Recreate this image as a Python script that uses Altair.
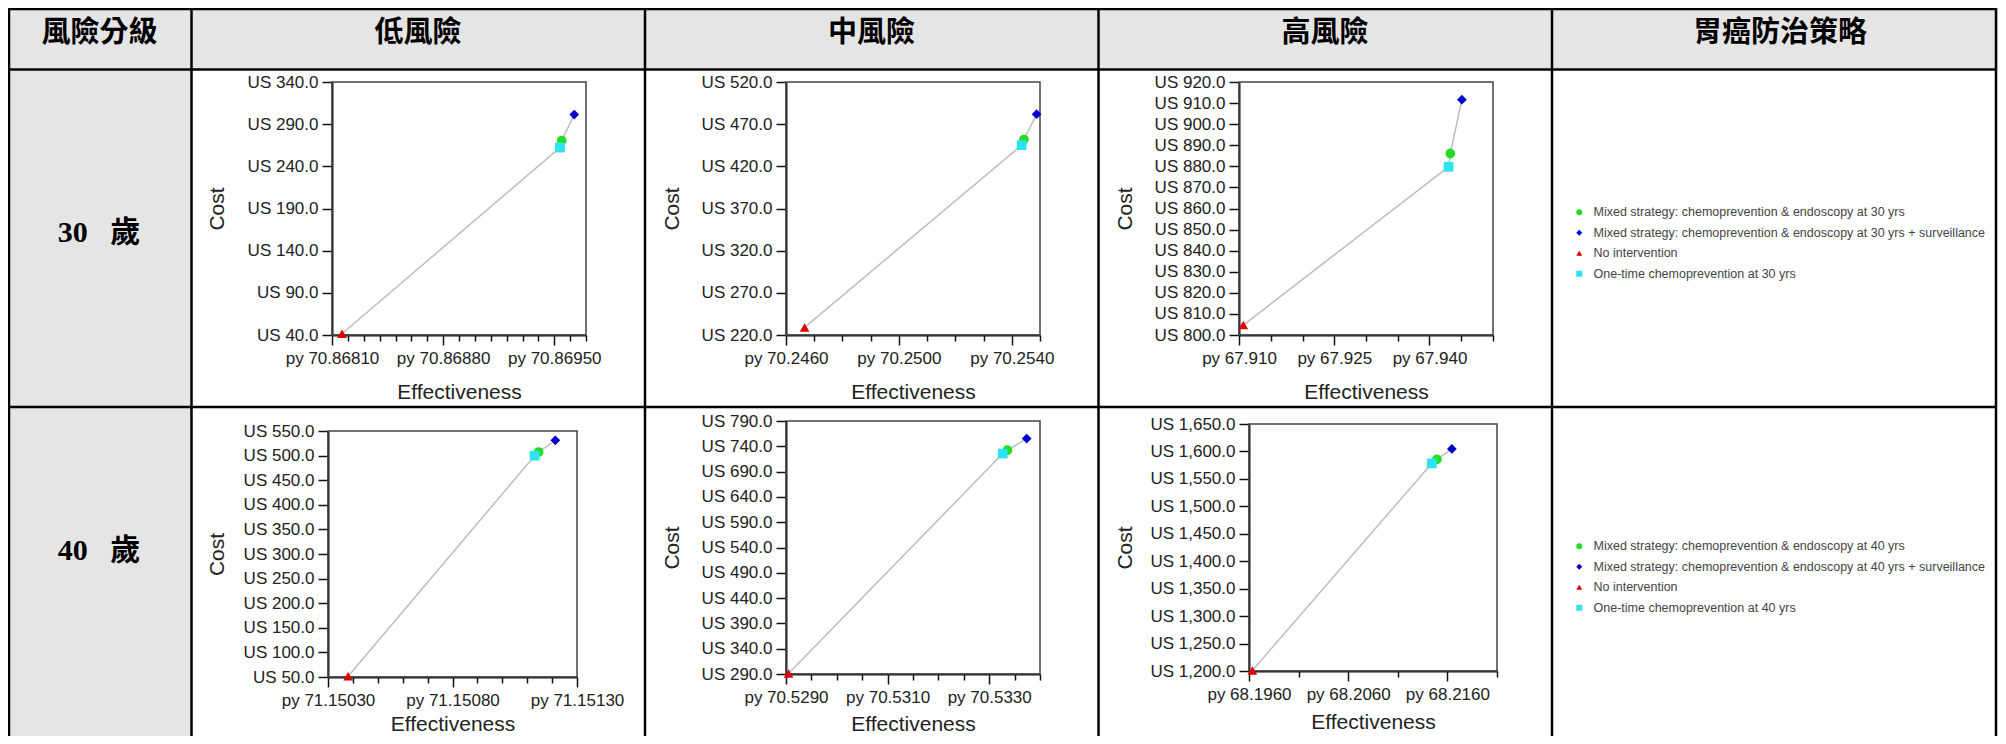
import altair as alt
import pandas as pd

W, H = 1990, 728

# ---------------- table text ----------------
header_labels = ["風險分級", "低風險", "中風險", "高風險", "胃癌防治策略"]
header_x = [91.5, 410, 863.5, 1317, 1772]
row_labels = ["30\u00a0\u00a0\u00a0歲", "40\u00a0\u00a0\u00a0歲"]
row_label_y = [224.5, 542.5]

# ---------------- strategies ----------------
strategies_30 = [
    "Mixed strategy: chemoprevention & endoscopy at 30 yrs",
    "Mixed strategy: chemoprevention & endoscopy at 30 yrs + surveillance",
    "No intervention",
    "One-time chemoprevention at 30 yrs",
]
strategies_40 = [
    "Mixed strategy: chemoprevention & endoscopy at 40 yrs",
    "Mixed strategy: chemoprevention & endoscopy at 40 yrs + surveillance",
    "No intervention",
    "One-time chemoprevention at 40 yrs",
]
strategy_shapes = ["circle", "diamond", "triangle-up", "square"]
strategy_colors = ["#22dd22", "#0000cc", "#dd0000", "#2ee3f0"]

# ---------------- values (effectiveness in py, cost in US$) ----------------
eff_30_low = [70.869547, 70.869626, 70.868163, 70.869536]
cost_30_low = [270.6, 301.4, 41.5, 262.3]
eff_30_mid = [70.25443, 70.25488, 70.24666, 70.25435]
cost_30_mid = [451.8, 481.8, 229.0, 445.1]
eff_30_high = [67.94328, 67.94510, 67.91068, 67.94300]
cost_30_high = [886.1, 911.6, 804.7, 879.8]
eff_40_low = [71.151146, 71.151213, 71.150381, 71.151130]
cost_40_low = [507.3, 531.0, 51.4, 499.9]
eff_40_mid = [70.533358, 70.533738, 70.529050, 70.533266]
cost_40_mid = [732.2, 755.2, 291.0, 725.6]
eff_40_high = [68.21494, 68.21645, 68.19634, 68.21443]
cost_40_high = [1585.6, 1604.5, 1201.0, 1578.3]

# axis domains / ticks
x_domains = [[70.86810, 70.86970], [70.2460, 70.2550], [67.910, 67.950],
             [71.15030, 71.15130], [70.5290, 70.5340], [68.1960, 68.2210]]
x_steps = [0.0001, 0.001, 0.005, 0.0001, 0.0005, 0.005]
x_majors = [[70.86810, 70.86880, 70.86950], [70.2460, 70.2500, 70.2540],
            [67.910, 67.925, 67.940], [71.15030, 71.15080, 71.15130],
            [70.5290, 70.5310, 70.5330], [68.1960, 68.2060, 68.2160]]
x_formats = [".5f", ".4f", ".3f", ".5f", ".4f", ".4f"]
y_domains = [[40, 340], [220, 520], [800, 920], [50, 550], [290, 790], [1200, 1650]]
y_steps = [50, 50, 10, 50, 50, 50]

# layout of plot frames (left, right, top, bottom) and title offsets
boxes = [(324, 578, 74, 327), (778, 1032, 74, 327), (1231, 1485, 74, 327),
         (320, 569, 423, 669), (778, 1032, 413, 666), (1241, 1489, 416, 663)]
ytitle_dx = [-115, -114, -114, -111, -114, -124]
xtitle_dy = [57, 57, 57, 47, 50, 51]
legend_pos = {0: (1565, 198), 3: (1565, 532)}


def tick_list(lo, hi, step):
    n = int(round((hi - lo) / step))
    return [round(lo + i * step, 8) for i in range(n + 1)]


def make_panel(i, strats, eff, cost):
    L, R, T, B = boxes[i]
    xdom, ydom = x_domains[i], y_domains[i]
    df = pd.DataFrame({"strategy": strats, "eff": eff, "cost": cost})
    frame_df = pd.DataFrame({"eff": [xdom[0]], "eff2": [xdom[1]],
                             "cost": [ydom[0]], "cost2": [ydom[1]]})
    test = " || ".join(f"abs(datum.value - {m}) < 1e-7" for m in x_majors[i])
    xscale = alt.Scale(domain=xdom, range=[L, R], zero=False, nice=False)
    yscale = alt.Scale(domain=ydom, range=[B, T], zero=False, nice=False)
    xaxis = alt.Axis(orient="bottom", offset=B - H, values=tick_list(xdom[0], xdom[1], x_steps[i]),
                     labelExpr=f"({test}) ? 'py ' + format(datum.value, '{x_formats[i]}') : ''",
                     labelOverlap=False, labelFlush=False,
                     tickSize={"condition": {"test": test, "value": 10}, "value": 6},
                     labelPadding=5,
                     title="Effectiveness", titleY=xtitle_dy[i], titleBaseline="middle", grid=False)
    yaxis = alt.Axis(orient="left", offset=-L, values=tick_list(ydom[0], ydom[1], y_steps[i]),
                     labelExpr="'US ' + format(datum.value, ',.1f')", labelOverlap=False,
                     tickSize=10, labelPadding=4, title="Cost", titleX=ytitle_dx[i],
                     titleBaseline="middle", grid=False)
    x = alt.X("eff:Q", scale=xscale, axis=xaxis)
    y = alt.Y("cost:Q", scale=yscale, axis=yaxis)

    frame = alt.Chart(frame_df).mark_rect(fill=None, stroke="#444", strokeWidth=1.5).encode(
        x=x, x2="eff2:Q", y=y, y2="cost2:Q")
    line = alt.Chart(df).mark_line(color="#bdbdbd", strokeWidth=1.5).encode(
        x=x, y=y, order="eff:Q")
    if i in legend_pos:
        lx, ly = legend_pos[i]
        leg = alt.Legend(orient="none", legendX=lx, legendY=ly, title=None, symbolSize=36,
                         labelFont="Liberation Sans", labelFontSize=12.5, labelColor="#444",
                         labelOffset=8, rowPadding=7.5, padding=0, symbolStrokeWidth=0,
                         labelLimit=600)
    else:
        leg = None
    cscale = alt.Scale(domain=strats, range=strategy_colors)
    sscale = alt.Scale(domain=strats, range=strategy_shapes)
    pts = alt.Chart(df).mark_point(filled=True, opacity=1, size=95, strokeWidth=0).encode(
        x=x, y=y,
        color=alt.Color("strategy:N", scale=cscale, legend=leg),
        shape=alt.Shape("strategy:N", scale=sscale, legend=leg),
    )
    return alt.layer(frame, line, pts)


one = pd.DataFrame({"k": [0]})
GRAY = "#e5e5e5"
col_x = [1, 183.5, 637, 1090.5, 1544, 1988]
row_y = [1, 61.5, 399]

decor = []
decor.append(alt.Chart(one).mark_rect(color=GRAY).encode(
    x=alt.value(0), x2=alt.value(W), y=alt.value(0), y2=alt.value(row_y[1])))
decor.append(alt.Chart(one).mark_rect(color=GRAY).encode(
    x=alt.value(0), x2=alt.value(col_x[1]), y=alt.value(row_y[1]), y2=alt.value(H)))
for cx in col_x:
    decor.append(alt.Chart(one).mark_rule(color="black", strokeWidth=2.5).encode(
        x=alt.value(cx), y=alt.value(0), y2=alt.value(H)))
for ry in row_y:
    decor.append(alt.Chart(one).mark_rule(color="black", strokeWidth=2.5).encode(
        x=alt.value(0), x2=alt.value(col_x[-1]), y=alt.value(ry)))
for lab, hx in zip(header_labels, header_x):
    decor.append(alt.Chart(one).mark_text(font="Noto Sans CJK TC", fontSize=29, fontWeight="bold",
                                          color="black", align="center", baseline="middle").encode(
        x=alt.value(hx), y=alt.value(25), text=alt.value(lab)))
for lab, ry in zip(row_labels, row_label_y):
    decor.append(alt.Chart(one).mark_text(font="Liberation Serif, Noto Sans CJK TC", fontSize=30,
                                          fontWeight="bold", color="black", align="center",
                                          baseline="middle").encode(
        x=alt.value(91), y=alt.value(ry), text=alt.value(lab)))

panels = [
    make_panel(0, strategies_30, eff_30_low, cost_30_low),
    make_panel(1, strategies_30, eff_30_mid, cost_30_mid),
    make_panel(2, strategies_30, eff_30_high, cost_30_high),
    make_panel(3, strategies_40, eff_40_low, cost_40_low),
    make_panel(4, strategies_40, eff_40_mid, cost_40_mid),
    make_panel(5, strategies_40, eff_40_high, cost_40_high),
]

chart = alt.layer(*decor, *panels).properties(
    width=W, height=H, padding=0, autosize=alt.AutoSizeParams(type="none")
).resolve_scale(
    x="independent", y="independent", color="independent", shape="independent"
).configure_view(stroke=None).configure(background="white").configure_axis(
    labelFont="Liberation Sans", titleFont="Liberation Sans", labelFontSize=17, titleFontSize=21,
    titleFontWeight="normal", labelColor="#222", titleColor="#222", domainColor="#111",
    domainWidth=2, tickColor="#111", tickWidth=1.5, grid=False
)

chart.save("out.html", embed_options={"renderer": "svg", "actions": False})
